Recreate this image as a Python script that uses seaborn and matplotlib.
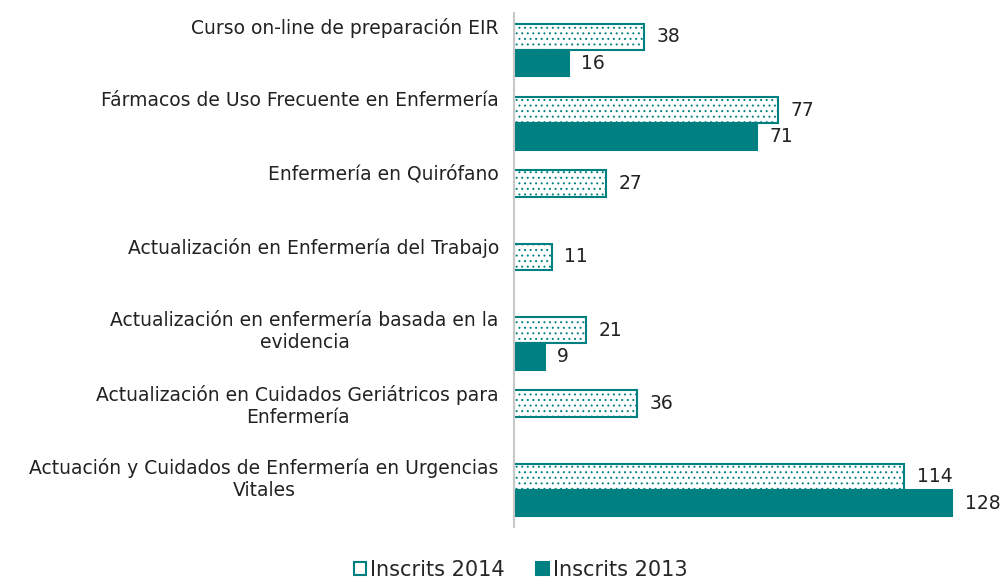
import matplotlib.pyplot as plt
import matplotlib.transforms as mtransforms
import seaborn as sns
import pandas as pd

# data
courses = [
    "Curso on-line de preparación EIR",
    "Fármacos de Uso Frecuente en Enfermería",
    "Enfermería en Quirófano",
    "Actualización en Enfermería del Trabajo",
    "Actualización en enfermería basada en la\nevidencia",
    "Actualización en Cuidados Geriátricos para\nEnfermería",
    "Actuación y Cuidados de Enfermería en Urgencias\nVitales",
]
inscrits_2014 = [38, 77, 27, 11, 21, 36, 114]
inscrits_2013 = [16, 71, None, None, 9, None, 128]
series = ["Inscrits 2014", "Inscrits 2013"]

teal = "#008080"

rows = []
for c, a, b in zip(courses, inscrits_2014, inscrits_2013):
    rows.append({"Curso": c, "Serie": series[0], "Valor": a})
    rows.append({"Curso": c, "Serie": series[1], "Valor": b})
df = pd.DataFrame(rows).dropna()

sns.set_style("white")
plt.rcParams['font.family'] = ['DejaVu Sans']
plt.rcParams['hatch.color'] = teal
plt.rcParams['hatch.linewidth'] = 0.7

fig, ax = plt.subplots(figsize=(10.03, 5.81), dpi=100)
fig.subplots_adjust(left=0.5125, right=0.956, top=0.977, bottom=0.0935)

sns.barplot(data=df, y="Curso", x="Valor", hue="Serie", order=courses,
            hue_order=series, orient="h", width=0.72, gap=0, saturation=1,
            palette=["white", teal], edgecolor=teal, linewidth=1.5, ax=ax)

# dotted fill for 2014
for bar in ax.containers[0]:
    bar.set_hatch("...")
    bar.set_edgecolor(teal)
for bar in ax.containers[1]:
    bar.set_edgecolor(teal)

for cont in ax.containers:
    ax.bar_label(cont, fmt="%d", padding=9, fontsize=13.5, color="#222222")

ax.set_xlim(0, 130)
ax.set_ylim(6.5, -0.5)
ax.set_xlabel("")
ax.set_ylabel("")
ax.set_xticks([])
ax.tick_params(axis="y", length=0, pad=11, labelsize=13.5, labelcolor="#222222")
for lab in ax.get_yticklabels():
    lab.set_verticalalignment("top")
    lab.set_multialignment("center")
    lab.set_transform(lab.get_transform() +
                      mtransforms.ScaledTranslation(0, 32 / 100, fig.dpi_scale_trans))

for side in ["top", "right", "bottom"]:
    ax.spines[side].set_visible(False)
ax.spines["left"].set_color("#c8c8c8")
ax.spines["left"].set_linewidth(1.5)

handles, labels = ax.get_legend_handles_labels()
ax.legend_.remove()
fig.legend(handles, labels, loc="lower center", bbox_to_anchor=(0.519, -0.03),
           ncol=2, frameon=False, fontsize=15, handlelength=0.6,
           handleheight=0.6, handletextpad=0.2, columnspacing=1.5)

plt.savefig("out.png", dpi=100)
